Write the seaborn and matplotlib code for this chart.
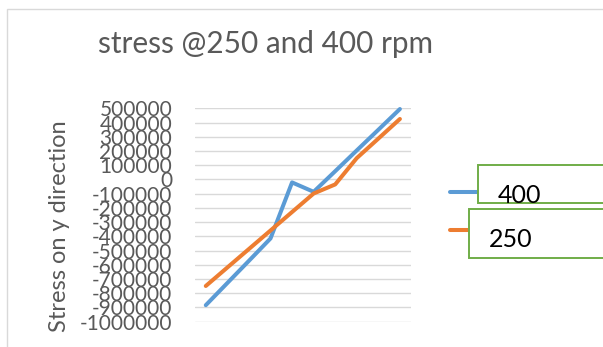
import matplotlib
matplotlib.use("Agg")
import matplotlib.pyplot as plt
from matplotlib.patches import Rectangle
from matplotlib.lines import Line2D
import seaborn as sns
import pandas as pd

# Sample points along the category axis
points = list(range(1, 11))
# Stress on y direction for each speed
stress_400 = [-884000, -728000, -572000, -415000, -21000, -87000, 58000, 204000, 349000, 495000]
stress_250 = [-749000, -619000, -489000, -359000, -229000, -99000, -35000, 150000, 287000, 425000]
series_names = ["400", "250"]
y_ticks = list(range(-1000000, 500001, 100000))
y_tick_labels = [str(v) for v in y_ticks]

title = "stress @250 and 400 rpm"
y_title = "Stress on y direction"

df = pd.DataFrame({
    "point": points * 2,
    "stress": stress_400 + stress_250,
    "rpm": [series_names[0]] * len(points) + [series_names[1]] * len(points),
})

sns.set_theme(style="white")
plt.rcParams["font.family"] = ["Lato", "DejaVu Sans"]
plt.rcParams["axes.unicode_minus"] = False

W, H = 603, 347
fig = plt.figure(figsize=(W / 100, H / 100), dpi=100)

def fx(px):
    return px / W

def fy(py):
    return 1 - py / H

ax_left, ax_right, ax_top, ax_bottom = 195, 410.7, 108.3, 321.7
ax = fig.add_axes([fx(ax_left), fy(ax_bottom), fx(ax_right - ax_left), (ax_bottom - ax_top) / H])

blue, orange = "#5B9BD5", "#ED7D31"
grey_text = "#595959"
line_w = 2.9

sns.lineplot(data=df, x="point", y="stress", hue="rpm", hue_order=series_names,
             palette={"400": blue, "250": orange}, legend=False, ax=ax,
             linewidth=line_w, solid_capstyle="round", solid_joinstyle="round")
for ln in ax.get_lines():
    ln.set_clip_on(False)

ax.set_xlim(0.5, 10.5)
ax.set_ylim(-1000000, 500000)
ax.set_xticks([])
ax.set_yticks(y_ticks)
ax.set_yticklabels(y_tick_labels)
ax.tick_params(axis="y", length=0, pad=16.5, labelsize=15, labelcolor=grey_text)
ax.grid(axis="y", color="#D9D9D9", linewidth=1.0)
ax.set_axisbelow(True)
for s in ax.spines.values():
    s.set_visible(False)
ax.set_xlabel("")
ax.set_ylabel(y_title, fontsize=17, color=grey_text)
ax.yaxis.label.set_va("center")
ax.yaxis.set_label_coords((59 - ax_left) / (ax_right - ax_left),
                          (ax_bottom - 226.5) / (ax_bottom - ax_top))

# Chart area border
fig.add_artist(Rectangle((fx(6.5), fy(400)), fx(700), (400 - 9) / H,
                         transform=fig.transFigure, fill=False,
                         edgecolor="#D9D9D9", linewidth=1.0, zorder=0.2))

fig.text(fx(265), fy(53), title, ha="center", va="baseline",
         fontsize=21.4, color=grey_text)

# Legend markers
handles = [Line2D([], [], color=blue, linewidth=line_w, solid_capstyle="round"),
           Line2D([], [], color=orange, linewidth=line_w, solid_capstyle="round")]
leg = fig.legend(handles, ["", ""], loc="upper left",
                 bbox_to_anchor=(fx(450), fy(183)), frameon=False,
                 fontsize=15, handlelength=1.3, labelspacing=0.9,
                 borderpad=0, borderaxespad=0, handletextpad=0)
leg.set_zorder(0.5)

# Boxed legend captions
green = "#70AD47"
fig.add_artist(Rectangle((fx(477.7), fy(202.7)), fx(200), 37.7 / H,
                         transform=fig.transFigure, facecolor="white",
                         edgecolor=green, linewidth=1.4, zorder=1))
fig.add_artist(Rectangle((fx(469), fy(258.3)), fx(200), 49 / H,
                         transform=fig.transFigure, facecolor="white",
                         edgecolor=green, linewidth=1.4, zorder=1))
fig.text(fx(498), fy(203.3), series_names[0], ha="left", va="baseline",
         fontsize=18, color="black", zorder=2)
fig.text(fx(489), fy(247.3), series_names[1], ha="left", va="baseline",
         fontsize=18, color="black", zorder=2)

fig.savefig("out.png", dpi=100)
